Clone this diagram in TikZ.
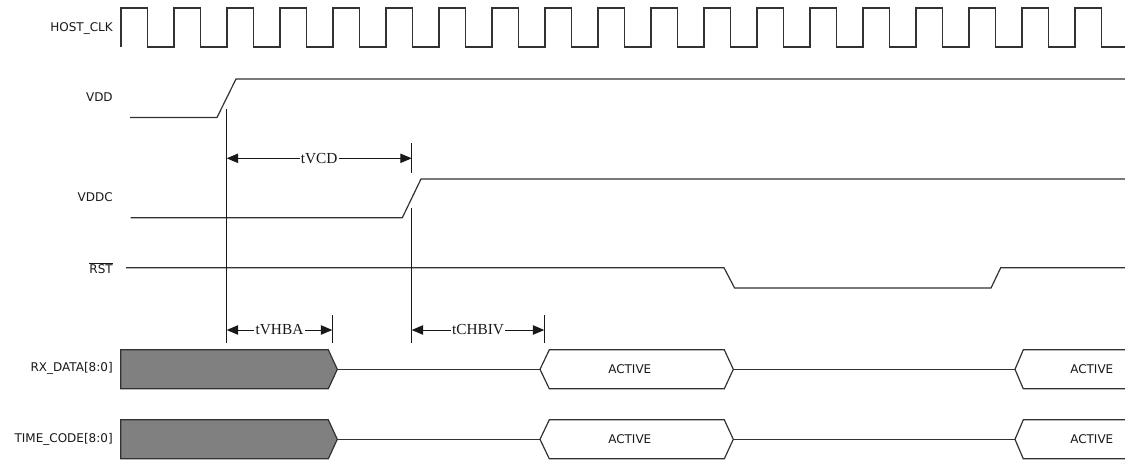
\documentclass[tikz,border=0pt]{standalone}
\usepackage{fontspec}
\setmainfont{DejaVu Sans}
\newfontfamily\dimfont{Liberation Serif}
\usetikzlibrary{arrows.meta}
\definecolor{wavegray}{RGB}{50,50,50}
\definecolor{busgray}{RGB}{128,128,128}
\tikzset{
    wave/.style={draw=wavegray, line width=0.9pt},
    marker/.style={draw=black!90, line width=0.75pt},
    dim/.style={{Triangle[length=8.5pt, width=7pt]}-{Triangle[length=8.5pt, width=7pt]}, line width=0.75pt, black!90},
    siglabel/.style={anchor=east, inner sep=0pt, font=\fontsize{9}{10}\selectfont, text=black!90},
    dimlabel/.style={fill=white, inner sep=1pt, font=\dimfont\fontsize{11.5}{12}\selectfont, text=black!90},
    busval/.style={anchor=west, inner sep=0pt, font=\fontsize{9}{10}\selectfont, text=black!90}
}

\begin{document}
\begin{tikzpicture}[x=0.75pt, y=-0.75pt]
\useasboundingbox (0,0) rectangle (1125,462);
\fill[white] (0,0) rectangle (1125,462);

% signal names
\node[siglabel] (clk) at (113,28) {HOST\_CLK};
\node[siglabel] (vdd) at (113,97) {VDD};
\node[siglabel] (vddc) at (113,197) {VDDC};
\node[siglabel] (rst) at (113,268) {$\overline{\hbox{RST}}$};
\node[siglabel] (rx) at (113,368.5) {RX\_DATA[8:0]};
\node[siglabel] (tc) at (113,439) {TIME\_CODE[8:0]};

% clock
\draw[wave] (121,47) \foreach \k in {0,...,18} { -- ++(0,-39) -- ++(26.5,0) -- ++(0,39) -- ++(26.5,0) };

% supplies and reset
\draw[wave] (130,117.5) -- (217,117.5) -- (236,79) -- (1125,79);
\draw[wave] (130.7,217.7) -- (402.3,217.7) -- (421,179) -- (1125,179);
\draw[wave] (126,267.7) -- (724,267.7) -- (734.6,288) -- (991,288) -- (1000.7,267.7) -- (1125,267.7);

% buses
\foreach \c/\n in {369.3/rx, 439.3/tc} {
  \filldraw[wave, fill=busgray] (120.7,\c-19.5) -- (328.3,\c-19.5) -- (337.3,\c) -- (328.3,\c+19.5) -- (120.7,\c+19.5) -- cycle;
  \draw[wave] (337.3,\c) -- (540,\c);
  \draw[wave] (540,\c) -- (549.3,\c-19.5) -- (724.3,\c-19.5) -- (733.3,\c) -- (724.3,\c+19.5) -- (549.3,\c+19.5) -- cycle;
  \node[busval] (\n act a) at (608,\c) {ACTIVE};
  \draw[wave] (733.3,\c) -- (1015,\c);
  \draw[wave] (1125,\c-19.5) -- (1023.3,\c-19.5) -- (1015,\c) -- (1023.3,\c+19.5) -- (1125,\c+19.5);
  \node[busval] (\n act b) at (1070,\c) {ACTIVE};
}

% timing markers
\coordinate (vcd a) at (226.7,158.3);
\coordinate (vcd b) at (411.7,158.3);
\coordinate (vhba a) at (226.7,330);
\coordinate (vhba b) at (332.3,330);
\coordinate (chbiv a) at (411.7,330);
\coordinate (chbiv b) at (544.3,330);

\draw[marker] (226.7,109) -- (226.7,343);
\draw[marker] (411.7,143) -- (411.7,173);
\draw[marker] (411.7,208) -- (411.7,343);
\draw[marker] (332.3,315) -- (332.3,343);
\draw[marker] (544.3,315) -- (544.3,343);

\draw[dim] (vcd a) -- (vcd b) node[midway, dimlabel] {tVCD};
\draw[dim] (vhba a) -- (vhba b) node[midway, dimlabel] {tVHBA};
\draw[dim] (chbiv a) -- (chbiv b) node[midway, dimlabel] {tCHBIV};
\end{tikzpicture}
\end{document}
